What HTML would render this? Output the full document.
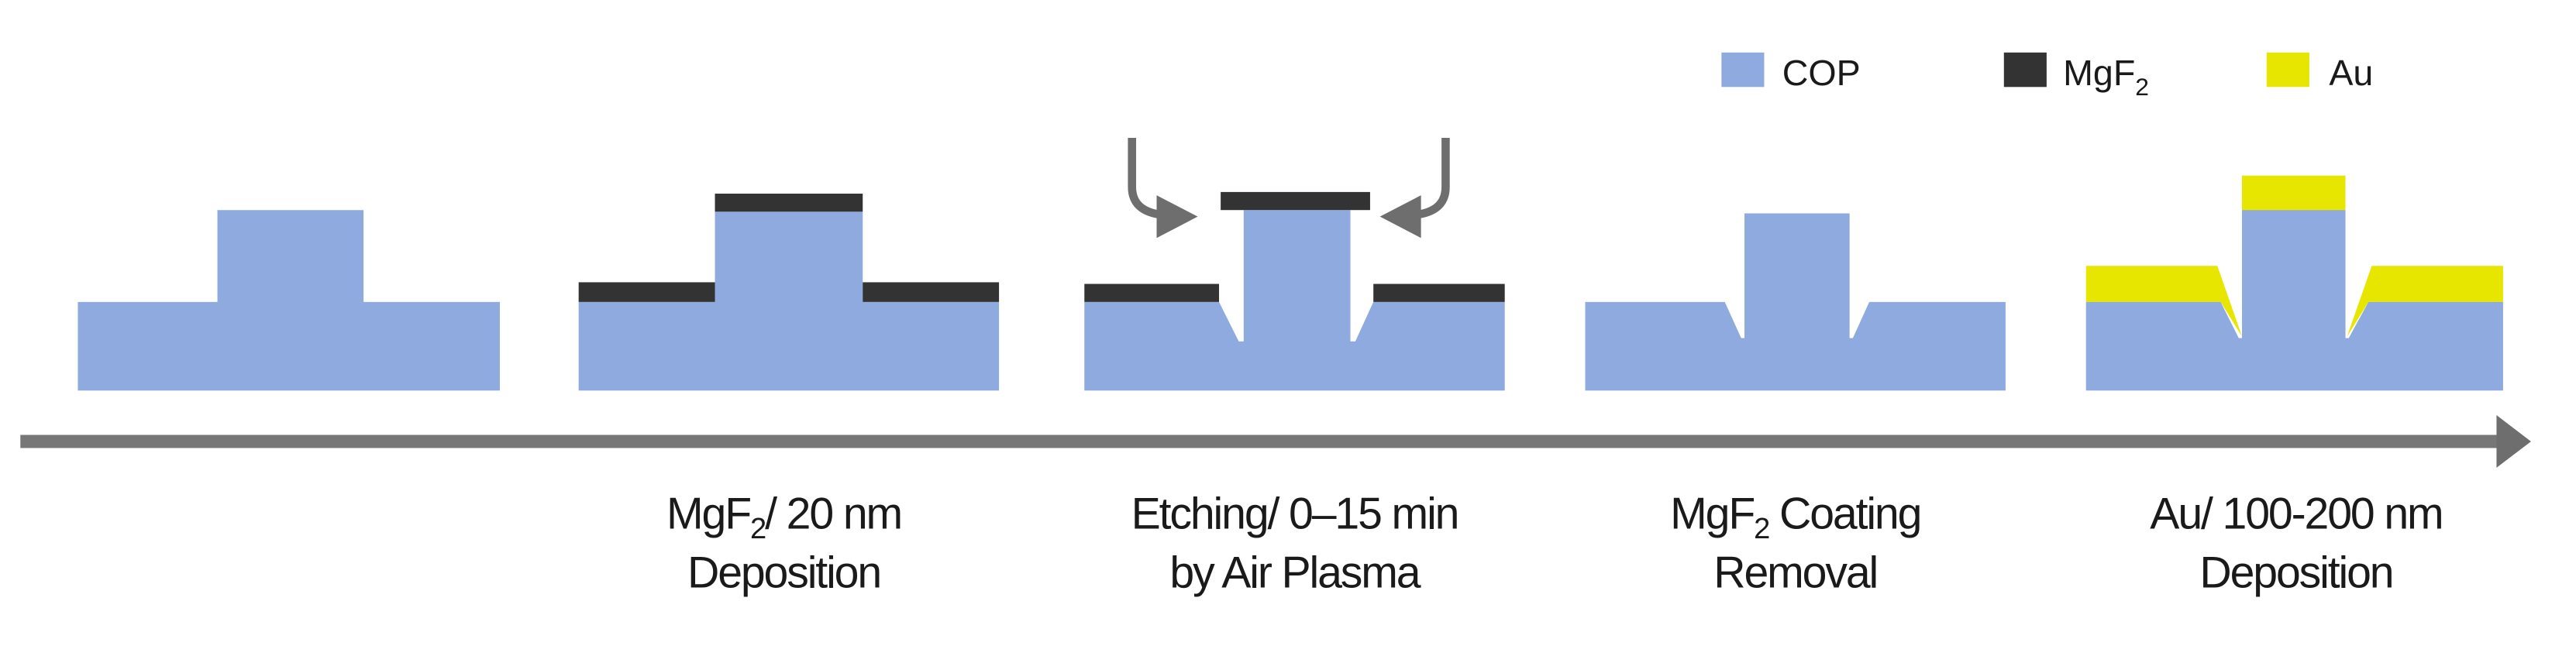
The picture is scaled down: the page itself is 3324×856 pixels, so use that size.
<!DOCTYPE html>
<html><head><meta charset="utf-8"><style>
html,body{margin:0;padding:0;background:#fff;}
svg{display:block}
text{font-family:"Liberation Sans",Arial,sans-serif;fill:#1a1a1a}
</style></head><body>
<svg width="3324" height="856" viewBox="0 0 1568 404" xmlns="http://www.w3.org/2000/svg">
<!-- legend -->
<rect x="1048" y="32" width="26" height="21" fill="#8eaadf"/>
<text x="1085" y="52" font-size="22">COP</text>
<rect x="1220" y="32" width="26" height="21" fill="#333"/>
<text x="1256" y="52" font-size="22">MgF<tspan font-size="15" dy="6">2</tspan></text>
<rect x="1380" y="32" width="26" height="21" fill="#e6e600"/>
<text x="1418" y="52" font-size="22">Au</text>

<!-- shape 1 -->
<polygon points="47,184 132,184 132,128 221,128 221,184 304,184 304,238 47,238" fill="#8eaadf"/>
<!-- shape 2 -->
<polygon points="352,184 435,184 435,129 525,129 525,184 608,184 608,238 352,238" fill="#8eaadf"/>
<rect x="352" y="172" width="83" height="12" fill="#333"/>
<rect x="525" y="172" width="83" height="12" fill="#333"/>
<rect x="435" y="118" width="90" height="11" fill="#333"/>
<!-- shape 3 -->
<polygon points="660,184 742,184 754,208 757,208 757,128 822,128 822,208 825,208 836,184 916,184 916,238 660,238" fill="#8eaadf"/>
<rect x="660" y="173" width="82" height="11" fill="#333"/>
<rect x="836" y="173" width="80" height="11" fill="#333"/>
<rect x="743" y="117" width="91" height="11" fill="#333"/>
<path d="M689,84 L689,114 Q689,129 708,131" stroke="#6e6e6e" stroke-width="5" fill="none"/>
<polygon points="704,119 729,132 704,145" fill="#6e6e6e"/>
<path d="M880,84 L880,114 Q880,129 861,131" stroke="#6e6e6e" stroke-width="5" fill="none"/>
<polygon points="865,119 840,132 865,145" fill="#6e6e6e"/>
<!-- shape 4 -->
<polygon points="965,184 1050,184 1060,206 1062,206 1062,130 1126,130 1126,206 1128,206 1138,184 1221,184 1221,238 965,238" fill="#8eaadf"/>
<!-- shape 5 -->
<polygon points="1270,162 1350,162 1365,205 1352,184 1270,184" fill="#e6e600"/>
<polygon points="1524,162 1444,162 1429,205 1442,184 1524,184" fill="#e6e600"/>
<rect x="1365" y="107" width="63" height="22" fill="#e6e600"/>
<polygon points="1270,184 1352,184 1363,206 1365,206 1365,128 1428,128 1428,206 1430,206 1442,184 1524,184 1524,238 1270,238" fill="#8eaadf"/>

<!-- timeline arrow -->
<rect x="12" y="265" width="1512" height="8" fill="#777"/>
<polygon points="1520,253 1541,269 1520,285" fill="#6e6e6e"/>

<!-- labels -->
<g font-size="27" text-anchor="middle" letter-spacing="-1">
<text x="477" y="322">MgF<tspan font-size="18" dy="6">2</tspan><tspan dy="-6">/ 20 nm</tspan></text>
<text x="477" y="358">Deposition</text>
<text x="788" y="322">Etching/ 0–15 min</text>
<text x="788" y="358">by Air Plasma</text>
<text x="1093" y="322">MgF<tspan font-size="18" dy="6">2</tspan><tspan dy="-6"> Coating</tspan></text>
<text x="1093" y="358">Removal</text>
<text x="1398" y="322">Au/ 100-200 nm</text>
<text x="1398" y="358">Deposition</text>
</g>
</svg>
</body></html>
